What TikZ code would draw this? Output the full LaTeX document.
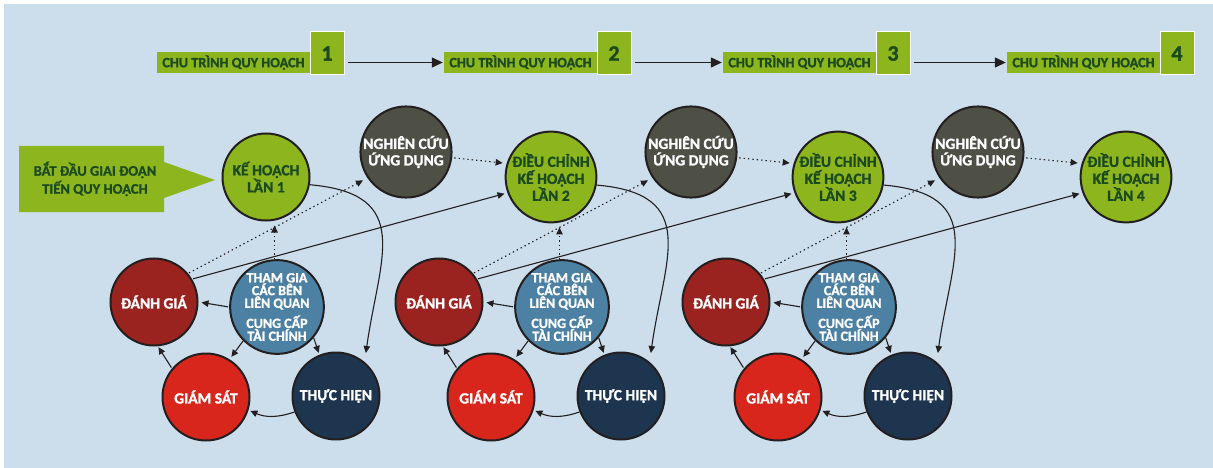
\documentclass[tikz,border=0pt]{standalone}
\usepackage{fontspec}
\setmainfont{Carlito}[BoldFeatures={FakeBold=1.3}]
\usetikzlibrary{arrows.meta,calc}
\definecolor{bgblue}{HTML}{CCDEEB}
\definecolor{pgreen}{HTML}{8DB51E}
\definecolor{dgreen}{HTML}{1B4A1E}
\definecolor{ngrey}{HTML}{4E4F45}
\definecolor{dred}{HTML}{9A231F}
\definecolor{gred}{HTML}{D8261C}
\definecolor{navy}{HTML}{1E3550}
\definecolor{tblue}{HTML}{4C81A3}
\definecolor{circborder}{HTML}{231F20}
\definecolor{linec}{HTML}{231F20}
\begin{document}
\begin{tikzpicture}[x=1pt,y=1pt,
  circ/.style={circle,draw=circborder,line width=2pt,minimum size=87pt,inner sep=0pt,align=center,font=\bfseries\fontsize{15.5}{17}\selectfont},
  plan/.style={circ,fill=pgreen,text=dgreen},
  research/.style={circ,fill=ngrey,text=white,font=\bfseries\fontsize{15.5}{16.5}\selectfont},
  evalc/.style={circ,fill=dred,text=white},
  partc/.style={circ,fill=tblue,text=white,font=\bfseries\fontsize{14}{11.5}\selectfont},
  monc/.style={circ,fill=gred,text=white},
  implc/.style={circ,fill=navy,text=white},
  lab/.style={fill=pgreen,text=dgreen,minimum width=153pt,minimum height=21pt,inner sep=0pt,font=\bfseries\fontsize{14.2}{14}\selectfont},
  numbox/.style={fill=pgreen,draw=white,line width=1pt,text=dgreen,minimum width=34pt,minimum height=43pt,inner sep=0pt,font=\bfseries\fontsize{22}{22}\selectfont},
  conn/.style={line width=1.1pt,draw=linec,-{Triangle[length=7pt,width=6.5pt]}},
  dotconn/.style={conn,dash pattern=on 1.4pt off 3pt},
  toparrow/.style={line width=1.3pt,draw=linec,-{Triangle[length=11pt,width=10pt]}}
]
\fill[white] (0,0) rectangle (1213,-468);
\fill[bgblue] (4,-4) rectangle (1213,-468);
\useasboundingbox (0,0) rectangle (1213,-468);

% top cycle labels
\foreach \i/\lx/\bx in {1/233.5/327,2/520.5/614,3/799.5/893,4/1083.5/1177}{
  \node[lab] (L\i) at (\lx,-62.5) {CHU TRÌNH QUY HOẠCH};
  \node[numbox] (B\i) at (\bx,-53.5) {\i};
}
\foreach \i/\j in {1/2,2/3,3/4}{
  \draw[toparrow,shorten <=3pt,shorten >=1pt] (B\i.east |- L\i.center) -- (L\j.west);
}

% start shape
\fill[pgreen] (19,-146) -- (164,-146) -- (164,-162) -- (215,-180) -- (164,-198) -- (164,-212) -- (19,-212) -- cycle;
\node[text=dgreen,align=center,font=\bfseries\fontsize{14.5}{18}\selectfont] (start) at (95,-179) {BẮT ĐẦU GIAI ĐOẠN\\TIẾN QUY HOẠCH};

% plan circles
\node[plan] (P1) at (266,-177) {KẾ HOẠCH\\LẦN 1};
\node[plan] (P2) at (551,-177) {ĐIỀU CHỈNH\\KẾ HOẠCH\\LẦN 2};
\node[plan] (P3) at (838,-177) {ĐIỀU CHỈNH\\KẾ HOẠCH\\LẦN 3};
\node[plan] (P4) at (1126,-177) {ĐIỀU CHỈNH\\KẾ HOẠCH\\LẦN 4};

\foreach \i/\px in {1/266,2/551,3/838}{
  \pgfmathtruncatemacro{\j}{\i+1}
  \node[research] (N\i) at (\px+140,-152) {NGHIÊN CỨU\\ỨNG DỤNG};
  \node[evalc] (D\i) at (\px-112,-302) {ĐÁNH GIÁ};
  \node[partc] (T\i) at (\px+11,-307) {THAM GIA\\CÁC BÊN\\LIÊN QUAN\\[5pt]CUNG CẤP\\TÀI CHÍNH};
  \node[monc] (G\i) at (\px-60,-397) {GIÁM SÁT};
  \node[implc] (H\i) at (\px+70,-396) {THỰC HIỆN};
  % connectors
  \draw[conn,shorten >=9pt] (P\i.-10) to[out=-5,in=82,looseness=1.45] (H\i.50);
  \draw[conn,shorten >=2pt] (H\i.201) to[bend left=22] (G\i.-17);
  \draw[conn,shorten <=1pt,shorten >=1pt] (G\i.140) -- (D\i.-85);
  \draw[conn,shorten <=1pt,shorten >=3pt] (T\i.180) -- (D\i.0);
  \draw[conn,shorten >=3pt] (T\i.225) -- (G\i.58);
  \draw[conn,shorten >=2pt] (T\i.-40) -- (H\i.112);
  \draw[dotconn,shorten >=4pt] (T\i.93) -- (T\i.93 |- P\i.south);
  \draw[dotconn,shorten <=1pt,shorten >=5pt] (D\i.40) -- (N\i.214);
  \draw[conn,shorten <=1pt,shorten >=3pt] (D\i.31) -- (P\j.200);
  \draw[dotconn,shorten <=2pt,shorten >=4pt] (N\i.-7) -- (P\j.163);
}
\end{tikzpicture}
\end{document}
